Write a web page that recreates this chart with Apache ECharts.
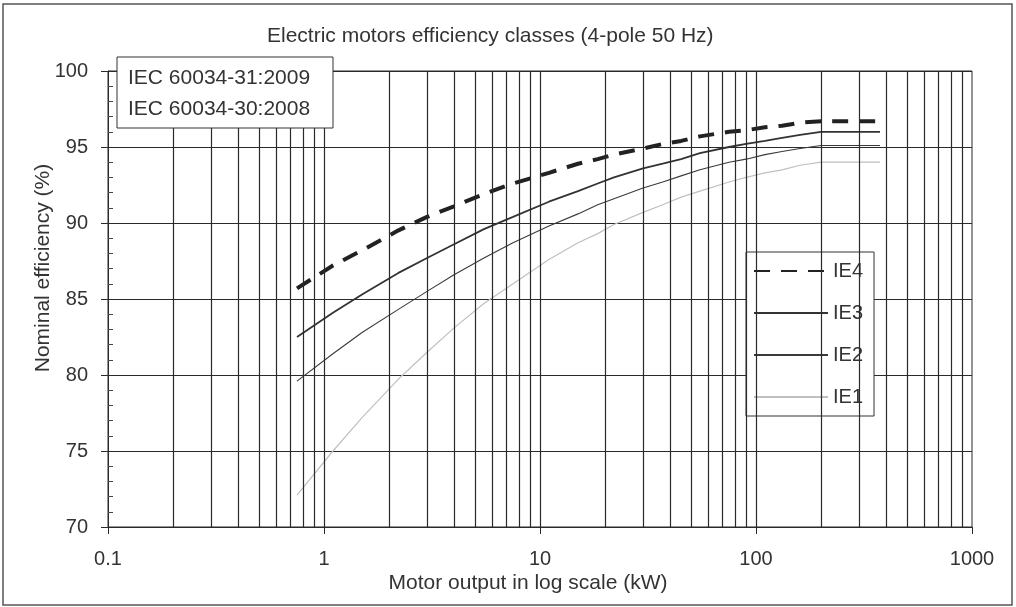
<!DOCTYPE html>
<html>
<head>
<meta charset="utf-8">
<script src="https://cdn.jsdelivr.net/npm/echarts@6/dist/echarts.min.js"></script>
<style>
  html, body { margin: 0; padding: 0; background: #fff; }
  #chart { width: 1016px; height: 607px; }
</style>
</head>
<body>
<div id="chart"></div>
<script>
// rated output (kW)
var power = [0.75, 1.1, 1.5, 2.2, 3, 4, 5.5, 7.5, 11, 15, 18.5, 22, 30, 37, 45, 55, 75, 90, 110, 132, 160, 200, 250, 315, 355, 375];
// nominal efficiency (%)
var ie4 = [85.7, 87.2, 88.2, 89.5, 90.4, 91.1, 91.9, 92.6, 93.3, 93.9, 94.2, 94.5, 94.9, 95.2, 95.4, 95.7, 96.0, 96.1, 96.3, 96.4, 96.6, 96.7, 96.7, 96.7, 96.7, 96.7];
var ie3 = [82.5, 84.1, 85.3, 86.7, 87.7, 88.6, 89.6, 90.4, 91.4, 92.1, 92.6, 93.0, 93.6, 93.9, 94.2, 94.6, 95.0, 95.2, 95.4, 95.6, 95.8, 96.0, 96.0, 96.0, 96.0, 96.0];
var ie2 = [79.6, 81.4, 82.8, 84.3, 85.5, 86.6, 87.7, 88.7, 89.8, 90.6, 91.2, 91.6, 92.3, 92.7, 93.1, 93.5, 94.0, 94.2, 94.5, 94.7, 94.9, 95.1, 95.1, 95.1, 95.1, 95.1];
var ie1 = [72.1, 75.0, 77.2, 79.7, 81.5, 83.1, 84.7, 86.0, 87.6, 88.7, 89.3, 89.9, 90.7, 91.2, 91.7, 92.1, 92.7, 93.0, 93.3, 93.5, 93.8, 94.0, 94.0, 94.0, 94.0, 94.0];

var xTickLabels = ['0.1', '1', '10', '100', '1000'];
var decades = [0.1, 1, 10, 100];
var multipliers = [2, 3, 4, 5, 6, 7, 8, 9, 10];
var standards = ['IEC 60034-31:2009', 'IEC 60034-30:2008'];

function pairs(ys) {
  return power.map(function (p, i) { return [p, ys[i]]; });
}

// vertical grid at every 1..9 x 10^n
var vLines = [];
decades.forEach(function (d) {
  multipliers.forEach(function (m) {
    var v = +(d * m).toPrecision(3);
    if (v < 1000) vLines.push({ xAxis: v });
  });
});

var font = 'Liberation Sans';
var txt = '#333';

var chart = echarts.init(document.getElementById('chart'));
chart.setOption({
  animation: false,
  textStyle: { fontFamily: font },
  title: {
    text: 'Electric motors efficiency classes (4-pole 50 Hz)',
    left: 262,
    top: 21,
    textStyle: { fontFamily: font, fontSize: 21, fontWeight: 'normal', color: txt }
  },
  grid: {
    left: 108, right: 44, top: 71, bottom: 80,
    show: true, borderColor: '#2a2a2a', borderWidth: 1
  },
  legend: {
    data: ['IE4', 'IE3', 'IE2', 'IE1'],
    orient: 'vertical',
    left: 746,
    top: 252,
    itemWidth: 74,
    itemHeight: 14,
    itemGap: 22,
    padding: [9, 11, 9, 7],
    backgroundColor: '#fff',
    borderColor: '#333',
    borderWidth: 1,
    borderRadius: 0,
    itemStyle: { opacity: 0 },
    textStyle: { fontFamily: font, fontSize: 20, color: txt }
  },
  xAxis: {
    type: 'log',
    logBase: 10,
    min: 0.1,
    max: 1000,
    name: 'Motor output in log scale (kW)',
    nameLocation: 'middle',
    nameGap: 46,
    nameMoveOverlap: false,
    nameTextStyle: { fontFamily: font, fontSize: 21, color: txt, padding: [0, 24, 0, 0] },
    axisLine: { lineStyle: { color: '#2a2a2a' } },
    axisTick: { show: true, length: 7, lineStyle: { color: '#2a2a2a' } },
    axisLabel: {
      margin: 22, fontSize: 20, color: txt, fontFamily: font,
      formatter: function (v) {
        var i = Math.round(Math.log10(v)) + 1;
        return xTickLabels[i] || '';
      }
    },
    splitLine: { show: false }
  },
  yAxis: [{
    type: 'value',
    min: 70,
    max: 100,
    interval: 5,
    name: 'Nominal efficiency (%)',
    nameLocation: 'middle',
    nameGap: 54,
    nameMoveOverlap: false,
    nameTextStyle: { fontFamily: font, fontSize: 21, color: txt, padding: [0, 0, 0, 62] },
    axisLine: { show: true, lineStyle: { color: '#2a2a2a' } },
    axisTick: { show: true, length: 7, lineStyle: { color: '#2a2a2a' } },
    axisLabel: { margin: 20, fontSize: 20, color: txt, fontFamily: font },
    splitLine: { show: true, lineStyle: { color: '#2a2a2a', width: 1 } }
  }, {
    type: 'value',
    min: 70,
    max: 100,
    interval: 5,
    position: 'left',
    axisLine: { show: false },
    axisTick: { show: false, inside: true },
    axisLabel: { show: false },
    minorTick: { show: true, splitNumber: 5, length: 5, lineStyle: { color: '#444' } },
    splitLine: { show: false }
  }],
  graphic: [
    {
      type: 'rect',
      shape: { x: 3, y: 4, width: 1009, height: 601 },
      style: { fill: 'none', stroke: '#555', lineWidth: 1.5 },
      silent: true
    },
    {
      type: 'rect',
      z: 100,
      shape: { x: 117, y: 57, width: 216, height: 71 },
      style: { fill: '#fff', stroke: '#333', lineWidth: 1 }
    },
    {
      type: 'text',
      z: 101,
      x: 128, y: 68,
      style: { text: standards[0], font: '21px "Liberation Sans"', fill: txt }
    },
    {
      type: 'text',
      z: 101,
      x: 128, y: 99,
      style: { text: standards[1], font: '21px "Liberation Sans"', fill: txt }
    }
  ],
  series: [
    {
      name: 'grid',
      type: 'line',
      data: [],
      z: 1,
      silent: true,
      markLine: {
        silent: true,
        symbol: 'none',
        label: { show: false },
        lineStyle: { color: '#2a2a2a', width: 1.2, type: 'solid' },
        data: vLines
      }
    },
    {
      name: 'IE1', type: 'line', data: pairs(ie1), symbol: 'none', z: 3,
      itemStyle: { color: '#c0c0c0' },
      lineStyle: { color: '#c0c0c0', width: 1.2 }
    },
    {
      name: 'IE2', type: 'line', data: pairs(ie2), symbol: 'none', z: 3,
      itemStyle: { color: '#3a3a3a' },
      lineStyle: { color: '#3a3a3a', width: 1.1 }
    },
    {
      name: 'IE3', type: 'line', data: pairs(ie3), symbol: 'none', z: 3,
      itemStyle: { color: '#333' },
      lineStyle: { color: '#333', width: 1.8 }
    },
    {
      name: 'IE4', type: 'line', data: pairs(ie4), symbol: 'none', z: 4,
      itemStyle: { color: '#222' },
      lineStyle: { color: '#222', width: 4, type: [16, 11] }
    }
  ]
});
</script>
</body>
</html>
